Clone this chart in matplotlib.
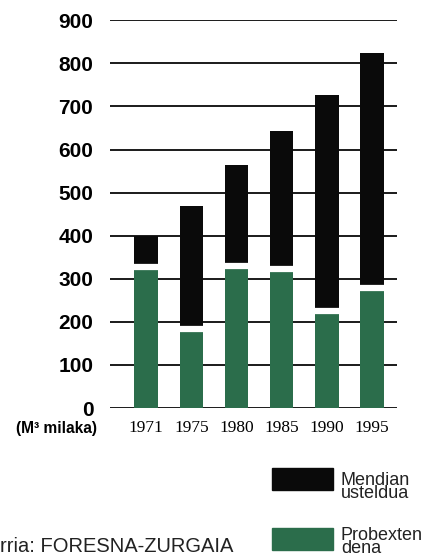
"""Mendian usteldua vs probextena, M3 milaka (1971-1995)."""
import matplotlib
matplotlib.use("Agg")
import matplotlib.pyplot as plt
import matplotlib.transforms as mtransforms
from matplotlib.patches import Rectangle

years = ["1971", "1975", "1980", "1985", "1990", "1995"]
probextena = [320, 176, 322, 316, 218, 271]   # green, bottom part
guztira = [400, 469, 565, 643, 726, 824]      # top of the black part
yticks = [0, 100, 200, 300, 400, 500, 600, 700, 800, 900]

GREEN = "#2b6d4b"
BLACK = "#0a0a0a"
SERIF = ["Liberation Serif", "DejaVu Serif"]
SANS = ["Liberation Sans", "DejaVu Sans"]

W, H = 430, 558
fig = plt.figure(figsize=(W / 100, H / 100), dpi=100)
ax = fig.add_axes([110 / W, 1 - 408 / H, (397 - 110) / W, (408 - 20.3) / H])

xs = list(range(len(years)))
mendian = [t - p for t, p in zip(guztira, probextena)]
bw = 0.52
ax.bar(xs, probextena, width=bw, color=GREEN, zorder=3)
ax.bar(xs, mendian, bottom=probextena, width=bw, color=BLACK, zorder=3)
# thin white break just above the green part
up = mtransforms.ScaledTranslation(0, 3 / 100, fig.dpi_scale_trans)
ax.hlines(probextena, [x - bw / 2 for x in xs], [x + bw / 2 for x in xs],
          colors="white", linewidth=4.5, zorder=4,
          transform=ax.transData + up)

ax.set_ylim(0, 900)
ax.set_xlim(-0.8, len(years) - 0.45)
ax.set_yticks(yticks)
for y in yticks:
    ax.axhline(y, color="#1a1a1a", linewidth=1.4, zorder=1)
for s in ax.spines.values():
    s.set_visible(False)
ax.tick_params(axis="both", length=0)
ax.set_yticklabels([str(v) for v in yticks], family=SANS,
                   fontweight="bold", fontsize=15)
ax.tick_params(axis="y", pad=12)
ax.set_xticks(xs)
ax.set_xticklabels(years, family=SERIF, fontsize=12.5)
ax.tick_params(axis="x", pad=9)

fig.text(97 / W, 1 - 428 / H, "(M³ milaka)", ha="right", va="center",
         family=SANS, fontweight="bold", fontsize=11.2)

# legend
for y0, col in [(468, BLACK), (528, GREEN)]:
    fig.patches.append(Rectangle((272 / W, 1 - (y0 + 22) / H), 61 / W, 22 / H,
                                 transform=fig.transFigure, color=col))
fig.text(341 / W, 1 - 487 / H, "Mendian\nusteldua", ha="left", va="center",
         family=SANS, fontsize=13, linespacing=0.76, color="#222222")
fig.text(341 / W, 1 - 542 / H, "Probexten\ndena", ha="left", va="center",
         family=SANS, fontsize=13, linespacing=0.76, color="#222222")

fig.text(0, 1 - 546 / H, "rria: FORESNA-ZURGAIA", ha="left", va="center",
         family=SANS, fontsize=14.5, color="#222222")

fig.savefig("out.png", dpi=100)
